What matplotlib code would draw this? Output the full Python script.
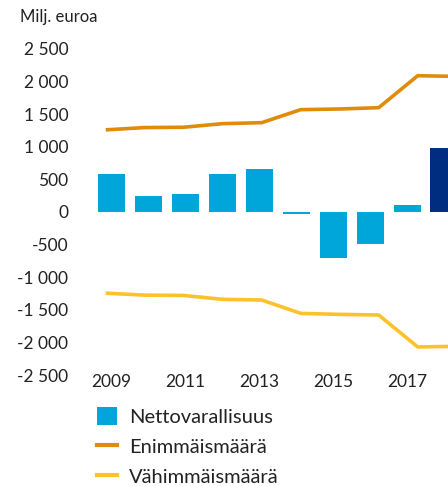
import matplotlib.pyplot as plt
from matplotlib.patches import Patch
from matplotlib.lines import Line2D

years = [2009, 2010, 2011, 2012, 2013, 2014, 2015, 2016, 2017, 2018]
netto = [585, 245, 275, 580, 660, -25, -705, -485, 110, 980]
enimmais = [1260, 1295, 1300, 1355, 1370, 1570, 1580, 1600, 2090, 2080]
vahimmais = [-1245, -1275, -1280, -1340, -1350, -1555, -1570, -1580, -2070, -2060]
yticks = [2500, 2000, 1500, 1000, 500, 0, -500, -1000, -1500, -2000, -2500]
xticks = [2009, 2011, 2013, 2015, 2017]

blue = "#00A6DA"
navy = "#002D80"
orange = "#E08C0A"
yellow = "#FDC22A"
txt = "#222222"

plt.rcParams['font.family'] = ['Lato', 'DejaVu Sans']

W, H = 448, 486
fig = plt.figure(figsize=(W / 100, H / 100), dpi=100)
left_px, right_px, top_px, bot_px = 90, 448, 49, 375
ax = fig.add_axes([left_px / W, 1 - bot_px / H, (right_px - left_px) / W, (bot_px - top_px) / H])

colors = [blue] * (len(years) - 1) + [navy]
ax.bar(years, netto, width=0.73, color=colors, zorder=2)
ax.set_xlim(2008.432, 2018.108)
ax.set_ylim(-2500, 2500)
ax.set_yticks(yticks)
ax.set_yticklabels([f"{v:,}".replace(",", " ") for v in yticks])
ax.set_xticks(xticks)
ax.set_xticklabels([str(x) for x in xticks])
ax.tick_params(length=0, labelsize=12.5, colors=txt)
ax.tick_params(axis='y', pad=15.5)
ax.tick_params(axis='x', pad=-1)
for s in ax.spines.values():
    s.set_visible(False)

# lines sit on their own (slightly wider) category axis
ax2 = ax.twiny()
ax2.set_xlim(2008.597, 2017.777)
ax2.plot(years, enimmais, color=orange, lw=2.6, solid_capstyle='butt')
ax2.plot(years, vahimmais, color=yellow, lw=2.6, solid_capstyle='butt')
ax2.set_xticks([])
for s in ax2.spines.values():
    s.set_visible(False)

fig.text(20 / W, 1 - 17 / H, "Milj. euroa", fontsize=12, color=txt, va='center', ha='left')

handles = [
    Patch(facecolor=blue, edgecolor='none'),
    Line2D([0], [0], color=orange, lw=3),
    Line2D([0], [0], color=yellow, lw=3),
]
labels = ["Nettovarallisuus", "Enimmäismäärä", "Vähimmäismäärä"]
fig.legend(handles, labels, loc='upper left', bbox_to_anchor=(97 / W, 1 - 407 / H),
           frameon=False, fontsize=14.5, handlelength=1.0, handleheight=1.0,
           handletextpad=0.6, labelspacing=0.56, borderaxespad=0, borderpad=0,
           labelcolor=txt)

fig.savefig("out.png", dpi=100)
